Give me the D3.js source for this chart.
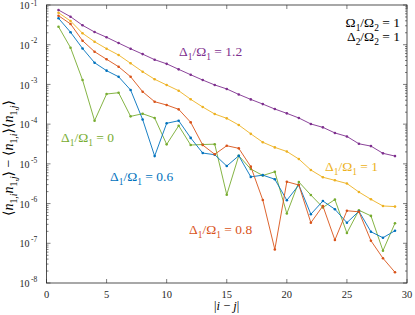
<!DOCTYPE html>
<html><head><meta charset="utf-8">
<script src="https://cdn.jsdelivr.net/npm/d3@7"></script>
<style>html,body{margin:0;padding:0;background:#fff}svg{display:block}
svg text{font-family:"Liberation Serif","Times New Roman","DejaVu Serif",serif}</style>
</head><body>
<svg id="c" width="415" height="315"></svg>
<script>
const distances = d3.range(1, 30);
const xTicks = [0, 5, 10, 15, 20, 25, 30];
const yTickExponents = [-1, -2, -3, -4, -5, -6, -7, -8];

const delta0 = [0.0284,0.00841,0.00129,0.000122,0.000574,0.000618,0.000157,0.000183,0.000143,3.1e-5,9.1e-5,2.98e-5,3.07e-5,3.13e-5,1.67e-6,1.6e-5,7.4e-6,5.1e-6,6.3e-6,5.6e-7,3.5e-6,1.64e-6,8.0e-7,1.26e-6,1.81e-7,6.8e-7,4.9e-7,6.5e-8,3.2e-7];
const delta06 = [0.0462,0.0206,0.00804,0.00352,0.00222,0.00156,0.000723,0.000131,1.57e-5,0.000105,0.000122,4.5e-5,1.87e-5,1.7e-5,8.8e-6,1.6e-5,4.7e-6,5.2e-6,4.1e-6,1.21e-6,2.93e-6,5.4e-7,1.16e-6,7.2e-7,3.3e-7,6.4e-7,1.95e-7,1.38e-7,2.07e-7];
const delta08 = [0.0538,0.0333,0.0126,0.00667,0.0043,0.00279,0.00156,0.000656,0.000367,0.000303,0.000236,0.000111,2.98e-5,1.74e-5,2.86e-5,2.46e-5,8.5e-6,1.23e-6,7.0e-8,3.55e-6,2.93e-6,3.3e-7,8.7e-7,1.21e-7,6.6e-7,6.2e-7,1.16e-7,4.2e-8,1.86e-8];
const delta1 = [0.064,0.0395,0.0194,0.0119,0.00794,0.00551,0.0034,0.00209,0.00135,0.000966,0.000695,0.000422,0.00027,0.00018,0.00014,9.5e-5,5.7e-5,3.5e-5,2.6e-5,2.05e-5,1.32e-5,7.0e-6,4.6e-6,3.85e-6,3.2e-6,1.95e-6,1.28e-6,8.7e-7,8.4e-7];
const delta12 = [0.0748,0.0507,0.0308,0.0209,0.0154,0.011,0.0079,0.0058,0.0042,0.0033,0.0024,0.00175,0.00129,0.00097,0.00077,0.00056,0.00042,0.00032,0.00024,0.000187,0.000143,0.000101,8.3e-5,6.0e-5,4.9e-5,3.2e-5,2.8e-5,1.84e-5,1.57e-5];

const seriesNames = ["0", "0.6", "0.8", "1", "1.2"];
const seriesValues = [delta0, delta06, delta08, delta1, delta12];
const seriesColors = ["#77AC30", "#0072BD", "#D95319", "#EDB120", "#7E2F8E"];

const svg = d3.select("#c");
const L = 46.5, R = 407, T = 5, B = 283;
const x = d3.scaleLinear().domain([0, 30]).range([L, R]);
const y = d3.scaleLog().domain([1e-8, 1e-1]).range([B, T]);
const axisColor = "#262626";

const g = svg.append("g");
const minorVals = [];
for (let e = -8; e < -1; e++) for (let m = 2; m <= 9; m++) minorVals.push(m * Math.pow(10, e));
minorVals.forEach(v => {
  g.append("line").attr("x1", L).attr("x2", L + 2).attr("y1", y(v)).attr("y2", y(v)).attr("stroke", axisColor).attr("stroke-width", 0.6);
  g.append("line").attr("x1", R).attr("x2", R - 2).attr("y1", y(v)).attr("y2", y(v)).attr("stroke", axisColor).attr("stroke-width", 0.6);
});
yTickExponents.forEach(e => {
  const yy = y(Math.pow(10, e));
  g.append("line").attr("x1", L).attr("x2", L + 4).attr("y1", yy).attr("y2", yy).attr("stroke", axisColor).attr("stroke-width", 0.6);
  g.append("line").attr("x1", R).attr("x2", R - 4).attr("y1", yy).attr("y2", yy).attr("stroke", axisColor).attr("stroke-width", 0.6);
  g.append("text").attr("x", 29.5).attr("y", yy + 4.2).attr("text-anchor", "end")
    .attr("font-size", 10).attr("fill", axisColor).text("10");
  g.append("text").attr("x", 31).attr("y", Math.max(yy - 1.3, 5.5)).attr("font-size", 7.5).attr("fill", axisColor).text("-" + (-e));
});
xTicks.forEach(v => {
  const xx = x(v);
  g.append("line").attr("x1", xx).attr("x2", xx).attr("y1", B).attr("y2", B - 4).attr("stroke", axisColor).attr("stroke-width", 0.6);
  g.append("line").attr("x1", xx).attr("x2", xx).attr("y1", T).attr("y2", T + 4).attr("stroke", axisColor).attr("stroke-width", 0.6);
  g.append("text").attr("x", xx).attr("y", 298).attr("text-anchor", "middle")
    .attr("font-size", 10.5).attr("fill", axisColor).text(v);
});
svg.append("rect").attr("x", L).attr("y", T).attr("width", R - L).attr("height", B - T)
  .attr("fill", "none").attr("stroke", axisColor).attr("stroke-width", 0.8);

const line = d3.line().x((d, i) => x(distances[i])).y(d => y(d));
seriesValues.forEach((vals, k) => {
  const sg = svg.append("g");
  sg.append("path").attr("d", line(vals)).attr("fill", "none").attr("stroke", seriesColors[k]).attr("stroke-width", 0.9);
  sg.selectAll("circle").data(vals).join("circle")
    .attr("cx", (d, i) => x(distances[i])).attr("cy", d => y(d)).attr("r", 1.3).attr("fill", seriesColors[k]);
});

function mathText(px, py, parts, color, size, anchor) {
  const t = svg.append("text").attr("x", px).attr("y", py)
    .attr("font-size", size).attr("fill", color).attr("text-anchor", anchor || "start");
  let shift = 0;
  parts.forEach(p => {
    const target = p.sub ? size * 0.28 : 0;
    const s = t.append("tspan").attr("dy", target - shift).text(p.t);
    shift = target;
    if (p.sub) s.attr("font-size", size * 0.7);
    if (p.it) s.attr("font-style", "italic");
  });
  return t;
}
function ratioLabel(a, b, val) {
  return [{t: a}, {t: "1", sub: true}, {t: "/Ω"}, {t: "1", sub: true}, {t: " = " + val}];
}
const labelPos = [[61, 142], [110, 181], [189, 234], [325, 171], [179, 56]];
seriesNames.forEach((n, k) => {
  mathText(labelPos[k][0], labelPos[k][1], ratioLabel("Δ", "Ω", n), seriesColors[k], 13.5);
});
mathText(400, 27, [{t: "Ω"}, {t: "1", sub: true}, {t: "/Ω"}, {t: "2", sub: true}, {t: " = 1"}], "#000", 13.5, "end");
mathText(400, 41, [{t: "Δ"}, {t: "2", sub: true}, {t: "/Ω"}, {t: "2", sub: true}, {t: " = 1"}], "#000", 13.5, "end");

mathText(226.7, 310, [{t: "|"}, {t: "i", it: true}, {t: " − "}, {t: "j", it: true}, {t: "|"}], "#000", 12.5, "middle");
const yl = mathText(0, 0, [
  {t: "⟨"}, {t: "n", it: true}, {t: "1,", sub: true}, {t: "i", sub: true, it: true},
  {t: "n", it: true}, {t: "1,", sub: true}, {t: "j", sub: true, it: true}, {t: "⟩ − ⟨"},
  {t: "n", it: true}, {t: "1,", sub: true}, {t: "i", sub: true, it: true}, {t: "⟩⟨"},
  {t: "n", it: true}, {t: "1,", sub: true}, {t: "j", sub: true, it: true}, {t: "⟩"}
], "#000", 14, "middle");
yl.attr("transform", "translate(13,158) rotate(-90)");
</script>
</body></html>
